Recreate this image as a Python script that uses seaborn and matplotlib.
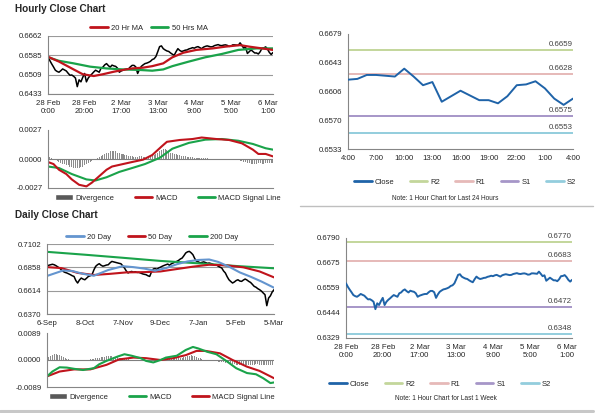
import numpy as np
import matplotlib
matplotlib.use("Agg")
import matplotlib.pyplot as plt
from matplotlib.lines import Line2D
from matplotlib.patches import Patch
import seaborn as sns

sns.set_style("white")
plt.rcParams["font.family"] = ["Liberation Sans", "DejaVu Sans"]

W, H = 600, 413

# ---- hourly bars, 28 Feb 0:00 .. 6 Mar 4:00 (one value per hour)
hourly_close = [
    0.6581, 0.6565, 0.6552, 0.6540, 0.6527, 0.6522, 0.6519, 0.6525, 0.6532, 0.6528,
    0.6524, 0.6515, 0.6507, 0.6508, 0.6503, 0.6496, 0.6462, 0.6489, 0.6481, 0.6499,
    0.6514, 0.6481, 0.6496, 0.6505, 0.6512, 0.6520, 0.6527, 0.6523, 0.6519, 0.6535,
    0.6539, 0.6548, 0.6553, 0.6545, 0.6539, 0.6547, 0.6544, 0.6542, 0.6535, 0.6519,
    0.6524, 0.6527, 0.6530, 0.6532, 0.6532, 0.6540, 0.6546, 0.6546, 0.6540, 0.6514,
    0.6530, 0.6542, 0.6548, 0.6553, 0.6555, 0.6558, 0.6562, 0.6569, 0.6572, 0.6581,
    0.6600, 0.6620, 0.6623, 0.6612, 0.6607, 0.6603, 0.6601, 0.6595, 0.6590, 0.6586,
    0.6600, 0.6612, 0.6605, 0.6601, 0.6603, 0.6606, 0.6607, 0.6611, 0.6613, 0.6616,
    0.6614, 0.6618, 0.6620, 0.6616, 0.6612, 0.6618, 0.6621, 0.6623, 0.6621, 0.6619,
    0.6620, 0.6624, 0.6626, 0.6628, 0.6625, 0.6624, 0.6626, 0.6627, 0.6625, 0.6621,
    0.6622, 0.6627, 0.6627, 0.6626, 0.6625, 0.6635, 0.6625, 0.6614, 0.6618, 0.6593,
    0.6600, 0.6607, 0.6601, 0.6595, 0.6595, 0.6591, 0.6600, 0.6614, 0.6615, 0.6619,
    0.6610, 0.6597, 0.6589, 0.6597,
]
ma20_hr_x = [0, 6, 14, 19, 25, 30, 36, 41, 46, 52, 57, 63, 68, 74, 81, 90, 97, 105, 110, 117, 123]
ma20_hr = [0.6580, 0.6561, 0.6530, 0.6511, 0.6504, 0.6511, 0.6521, 0.6528, 0.6534, 0.6537, 0.6543,
           0.6554, 0.6578, 0.6596, 0.6607, 0.6613, 0.6620, 0.6626, 0.6620, 0.6613, 0.6607]
ma50_hr_x = [0, 6, 14, 23, 32, 41, 50, 57, 63, 68, 77, 86, 95, 104, 114, 123]
ma50_hr = [0.6578, 0.6564, 0.6554, 0.6541, 0.6534, 0.6530, 0.6528, 0.6525, 0.6530, 0.6543,
           0.6561, 0.6578, 0.6591, 0.6607, 0.6613, 0.6613]
macd_hr_x = [0, 3, 6, 10, 13, 17, 21, 24, 28, 32, 35, 41, 46, 52, 57, 62, 65, 72, 79, 84,
             92, 99, 106, 112, 115, 119, 123]
macd_hr = [-0.00028, -0.00047, -0.0010, -0.0014, -0.0019, -0.0024, -0.00255, -0.0022, -0.0016,
           -0.0010, -0.0007, -0.00047, -0.00028, -0.00006, 0.00037, 0.00115, 0.0016, 0.00177,
           0.00186, 0.0020, 0.00186, 0.00177, 0.00146, 0.00087, 0.00047, 0.00047, 0.00024]
signal_hr_x = [0, 6, 13, 21, 26, 32, 39, 46, 53, 61, 68, 77, 86, 95, 104, 112, 119, 123]
signal_hr = [-0.0007, -0.00084, -0.0014, -0.0019, -0.0020, -0.0017, -0.0012, -0.00084, -0.00047,
             0.0001, 0.00096, 0.0015, 0.0018, 0.00186, 0.0017, 0.0014, 0.0010, 0.00087]
# divergence in units of 1e-4
div_hr = [
    3, 2, 1, 0.3, -1, -2, -3, -4, -5, -5,
    -6, -6, -7, -7, -8, -8, -8, -8, -7, -7,
    -6, -5, -4, -3, -2, -1, 0.3, 1, 2, 3,
    4, 5, 6, 6, 7, 7, 7, 7, 6, 6,
    5, 5, 4, 4, 3, 3, 3, 2, 2, 2,
    3, 3, 2, 2, 1, 1, 2, 3, 4, 5,
    6, 7, 8, 9, 9, 8, 7, 6, 6, 5,
    5, 4, 4, 3, 3, 3, 2, 2, 2, 2,
    1, 1, 1, 1, 1, 0.5, 0.5, 0.5, 0.3, 0.3,
    0.3, 0.3, 0.3, 0.3, 0.3, 0.3, -0.3, -0.3, -0.5, -1,
    -1, -1, -1, -1, -1, -2, -2, -3, -3, -4,
    -4, -5, -5, -5, -5, -4, -4, -5, -5, -4,
    -4, -4, -4, -4,
]
hourly_ticks = ["28 Feb\n0:00", "28 Feb\n20:00", "2 Mar\n17:00", "3 Mar\n13:00",
                "4 Mar\n9:00", "5 Mar\n5:00", "6 Mar\n1:00"]

# ---- last 24 hours
last24_close = [0.6621, 0.6622, 0.6627, 0.6627, 0.6626, 0.6625, 0.6635, 0.6625, 0.6614,
                0.6618, 0.6593, 0.6600, 0.6607, 0.6601, 0.6595, 0.6595, 0.6591, 0.6600,
                0.6614, 0.6615, 0.6619, 0.6610, 0.6597, 0.6589, 0.6597]
last24_ticks = ["4:00", "7:00", "10:00", "13:00", "16:00", "19:00", "22:00", "1:00", "4:00"]
level_names = ["R2", "R1", "S1", "S2"]
level_colors = ["#c3d69b", "#e6b9b8", "#a696c8", "#93cddd"]
levels_24h = [0.6659, 0.6628, 0.6575, 0.6553]
levels_week = [0.6770, 0.6683, 0.6472, 0.6348]

# ---- daily bars, 6 Sep .. 5 Mar
daily_close = [
    0.6870, 0.6880, 0.6885, 0.6890, 0.6885, 0.6875, 0.6862, 0.6851, 0.6830, 0.6815,
    0.6805, 0.6799, 0.6790, 0.6781, 0.6770, 0.6763, 0.6720, 0.6694, 0.6725, 0.6746,
    0.6735, 0.6728, 0.6745, 0.6763, 0.6770, 0.6781, 0.6830, 0.6868, 0.6885, 0.6896,
    0.6880, 0.6870, 0.6875, 0.6882, 0.6885, 0.6905, 0.6920, 0.6915, 0.6910, 0.6905,
    0.6900, 0.6896, 0.6875, 0.6851, 0.6820, 0.6799, 0.6810, 0.6815, 0.6808, 0.6812,
    0.6805, 0.6805, 0.6798, 0.6790, 0.6785, 0.6781, 0.6770, 0.6763, 0.6810, 0.6841,
    0.6845, 0.6838, 0.6851, 0.6860, 0.6870, 0.6878, 0.6885, 0.6892, 0.6880, 0.6895,
    0.6903, 0.6912, 0.6920, 0.6930, 0.6945, 0.6955, 0.6980, 0.7008, 0.7020, 0.7025,
    0.7010, 0.6990, 0.6950, 0.6920, 0.6915, 0.6905, 0.6910, 0.6915, 0.6908, 0.6900,
    0.6903, 0.6898, 0.6890, 0.6880, 0.6885, 0.6870, 0.6860, 0.6851, 0.6820, 0.6799,
    0.6760, 0.6728, 0.6710, 0.6694, 0.6705, 0.6720, 0.6728, 0.6715, 0.6711, 0.6725,
    0.6736, 0.6725, 0.6711, 0.6700, 0.6680, 0.6659, 0.6650, 0.6635, 0.6624, 0.6610,
    0.6590, 0.6572, 0.6457, 0.6537, 0.6560, 0.6600, 0.6624,
]
ma20_d_x = [0, 9, 14, 20, 26, 34, 42, 48, 54, 60, 66, 72, 78, 84, 90, 95, 101, 107, 113, 119, 126]
ma20_d = [0.6768, 0.6825, 0.6820, 0.6790, 0.6770, 0.6830, 0.6870, 0.6860, 0.6845, 0.6822, 0.6850,
          0.6890, 0.6920, 0.6935, 0.6940, 0.6915, 0.6865, 0.6805, 0.6760, 0.6710, 0.6645]
ma50_d_x = [0, 8, 17, 26, 35, 44, 54, 63, 72, 81, 90, 100, 109, 118, 126]
ma50_d = [0.6860, 0.6850, 0.6800, 0.6778, 0.6790, 0.6805, 0.6808, 0.6815, 0.6840, 0.6865,
          0.6885, 0.6878, 0.6858, 0.6815, 0.6753]
ma200_d_x = [0, 21, 42, 63, 84, 105, 126]
ma200_d = [0.7020, 0.6990, 0.6958, 0.6925, 0.6900, 0.6872, 0.6848]
macd_d_x = [0, 3, 7, 11, 15, 20, 26, 29, 33, 39, 43, 47, 52, 55, 59, 63, 66, 72, 77, 81,
            84, 89, 94, 100, 105, 111, 116, 120, 124, 126]
macd_d = [-0.0054, -0.0038, -0.0024, -0.0025, -0.0029, -0.0033, -0.0027, -0.0014, -0.0003,
          0.0011, 0.0019, 0.0014, 0.0006, -0.0003, -0.0008, 0.0, 0.0008, 0.0014, 0.0033, 0.0043,
          0.0038, 0.0027, 0.0019, -0.0005, -0.0027, -0.0043, -0.0047, -0.0060, -0.0076, -0.0074]
signal_d_x = [0, 7, 15, 24, 33, 40, 48, 55, 63, 70, 77, 83, 88, 96, 103, 111, 118, 126]
signal_d = [-0.0054, -0.0038, -0.0031, -0.0031, -0.0016, 0.0002, 0.0008, 0.0006, 0.0, 0.0006,
            0.0016, 0.0030, 0.0030, 0.0022, 0.0, -0.0022, -0.0036, -0.0060]
div_d = [
    5, 10, 14, 17, 19, 19, 18, 16, 13, 10,
    7, 4, 2, 1, 0.3, 0.3, 0.3, 0.3, 0.3, 0.3,
    0.3, 0.3, 1, 1, 2, 3, 4, 6, 7, 8,
    9, 10, 11, 12, 13, 13, 12, 11, 10, 9,
    8, 7, 5, 4, 3, 2, 1, 0.3, -1, -2,
    -2, -3, -3, -3, -2, -2, -1, -1, 0.3, 0.3,
    1, 2, 3, 4, 5, 5, 6, 6, 7, 7,
    6, 5, 5, 6, 7, 8, 9, 10, 12, 14,
    15, 14, 12, 10, 8, 5, 3, 1, 0.3, -1,
    -2, -3, -3, -4, -4, -5, -6, -7, -8, -9,
    -10, -11, -12, -13, -14, -15, -15, -16, -16, -17,
    -17, -17, -16, -16, -15, -15, -14, -14, -15, -15,
    -16, -16, -17, -17, -18, -18, -19,
]
daily_ticks = ["6-Sep", "8-Oct", "7-Nov", "9-Dec", "7-Jan", "5-Feb", "5-Mar"]

RED, GREEN, BLUE = "#c0141c", "#1aa34a", "#6495cf"
CLOSE_BLUE = "#1f63a8"
AXC = "#868686"


def box(l, t, r, b):
    return [l / W, 1 - b / H, (r - l) / W, (b - t) / H]


def frame(ax, grid=False):
    for s in ["top", "right"]:
        ax.spines[s].set_visible(False)
    for s in ["left", "bottom"]:
        ax.spines[s].set_color(AXC)
        ax.spines[s].set_linewidth(0.8)
    ax.tick_params(axis="both", direction="out", length=2.5, width=0.6, color=AXC,
                   labelsize=5.6, pad=1.5, labelcolor="#262626")
    if grid:
        ax.yaxis.grid(True, color="#9a9a9a", lw=0.8)
        ax.set_axisbelow(True)
    ax.set_xlabel("")
    ax.set_ylabel("")


def yscale(ax, lo, hi, n, labels):
    ax.set_ylim(lo, hi)
    ax.set_yticks(np.linspace(lo, hi, n))
    ax.set_yticklabels(labels)


def legend_row(fig, handles, labels, cx, cy, colsp):
    fig.legend(handles, labels, loc="center", bbox_to_anchor=(cx / W, 1 - cy / H),
               ncol=len(handles), frameon=False, fontsize=5.5, handlelength=2.3,
               handletextpad=0.4, columnspacing=colsp, borderaxespad=0, borderpad=0)


def bars_line(ax, close):
    # close of each bar, drawn as a solid black jagged line
    x = np.arange(len(close))
    sns.lineplot(x=x, y=close, ax=ax, color="black", lw=1.1, estimator=None)


def macd_panel(ax, xs_m, m, c_m, xs_s, s, c_s, div, lim, n):
    idx = np.arange(len(div))
    sns.barplot(x=idx, y=np.array(div) * 1e-4, native_scale=True, ax=ax, color="#8c8c8c",
                saturation=1, width=0.55, linewidth=0, errorbar=None)
    ax.axhline(0, color="#7f7f7f", lw=0.8, zorder=1)
    sns.lineplot(x=xs_s, y=s, ax=ax, color=c_s, lw=1.5, estimator=None)
    sns.lineplot(x=xs_m, y=m, ax=ax, color=c_m, lw=1.5, estimator=None)
    ax.set_xlim(0, n)
    ax.set_xticks([])
    yscale(ax, -lim, lim, 3, [f"-{lim:.4f}", "0.0000", f"{lim:.4f}"])
    frame(ax)


def levels_panel(ax, xs, close, levels):
    for name, lv, c in zip(level_names, levels, level_colors):
        ax.axhline(lv, color=c, lw=1.4, zorder=1)
        ax.annotate(f"{lv:.4f}", xy=(1, lv), xycoords=("axes fraction", "data"),
                    xytext=(0, 1.5), textcoords="offset points", ha="right", va="bottom",
                    fontsize=5.7, color="#404040")
    sns.lineplot(x=xs, y=close, ax=ax, color=CLOSE_BLUE, lw=1.4, estimator=None, zorder=3)
    frame(ax)


fig = plt.figure(figsize=(W / 100, H / 100), dpi=100)

fig.text(15 / W, 1 - 9 / H, "Hourly Close Chart", fontsize=7.2, fontweight="bold", va="center")
fig.text(15 / W, 1 - 215 / H, "Daily Close Chart", fontsize=7.2, fontweight="bold", va="center")

# hourly price
ax = fig.add_axes(box(48, 36, 273, 94))
bars_line(ax, hourly_close)
sns.lineplot(x=ma50_hr_x, y=ma50_hr, ax=ax, color=GREEN, lw=1.6, estimator=None)
sns.lineplot(x=ma20_hr_x, y=ma20_hr, ax=ax, color=RED, lw=1.6, estimator=None)
ax.set_xlim(0, 123)
ax.set_xticks(range(0, 121, 20))
ax.set_xticklabels(hourly_ticks)
yscale(ax, 0.6433, 0.6662, 4, ["0.6433", "0.6509", "0.6585", "0.6662"])
frame(ax, grid=True)
legend_row(fig, [Line2D([], [], color=RED, lw=2), Line2D([], [], color=GREEN, lw=2)],
           ["20 Hr MA", "50 Hrs MA"], 149, 28, 1.0)

# hourly macd
ax = fig.add_axes(box(48, 130, 273, 188))
macd_panel(ax, macd_hr_x, macd_hr, RED, signal_hr_x, signal_hr, GREEN, div_hr, 0.0027, 123)
legend_row(fig, [Patch(facecolor="#595959"), Line2D([], [], color=RED, lw=2),
                 Line2D([], [], color=GREEN, lw=2)],
           ["Divergence", "MACD", "MACD Signal Line"], 168, 198, 2.6)

# last 24 hours
ax = fig.add_axes(box(348, 34, 573, 149))
levels_panel(ax, np.arange(len(last24_close)), last24_close, levels_24h)
ax.set_xlim(0, 24)
ax.set_xticks(range(0, 25, 3))
ax.set_xticklabels(last24_ticks)
yscale(ax, 0.6533, 0.6679, 5, ["0.6533", "0.6570", "0.6606", "0.6643", "0.6679"])
lvl_handles = [Line2D([], [], color=CLOSE_BLUE, lw=2)] + [Line2D([], [], color=c, lw=2) for c in level_colors]
legend_row(fig, lvl_handles, ["Close"] + level_names, 465, 182, 2.0)
fig.text(445 / W, 1 - 198 / H, "Note: 1 Hour Chart for Last 24 Hours", fontsize=4.7, ha="center", va="center")

# last week
ax = fig.add_axes(box(346, 238, 572, 338))
levels_panel(ax, np.arange(len(hourly_close)), hourly_close, levels_week)
ax.set_xlim(0, 123)
ax.set_xticks(range(0, 121, 20))
ax.set_xticklabels(hourly_ticks)
yscale(ax, 0.6329, 0.6790, 5, ["0.6329", "0.6444", "0.6559", "0.6675", "0.6790"])
legend_row(fig, lvl_handles, ["Close"] + level_names, 440, 384, 2.0)
fig.text(446 / W, 1 - 398 / H, "Note: 1 Hour Chart for Last 1 Week", fontsize=4.7, ha="center", va="center")

# daily price
ax = fig.add_axes(box(47, 244, 274, 314))
bars_line(ax, daily_close)
sns.lineplot(x=ma200_d_x, y=ma200_d, ax=ax, color=GREEN, lw=1.5, estimator=None)
sns.lineplot(x=ma50_d_x, y=ma50_d, ax=ax, color=RED, lw=1.5, estimator=None)
sns.lineplot(x=ma20_d_x, y=ma20_d, ax=ax, color=BLUE, lw=1.5, estimator=None)
ax.set_xlim(0, 126)
ax.set_xticks(range(0, 127, 21))
ax.set_xticklabels(daily_ticks)
yscale(ax, 0.6370, 0.7102, 4, ["0.6370", "0.6614", "0.6858", "0.7102"])
frame(ax, grid=True)
legend_row(fig, [Line2D([], [], color=BLUE, lw=2), Line2D([], [], color=RED, lw=2),
                 Line2D([], [], color=GREEN, lw=2)],
           ["20 Day", "50 Day", "200 Day"], 152, 237, 2.2)

# daily macd
ax = fig.add_axes(box(47, 333, 274, 387))
macd_panel(ax, macd_d_x, macd_d, GREEN, signal_d_x, signal_d, RED, div_d, 0.0089, 126)
legend_row(fig, [Patch(facecolor="#595959"), Line2D([], [], color=GREEN, lw=2),
                 Line2D([], [], color=RED, lw=2)],
           ["Divergence", "MACD", "MACD Signal Line"], 162, 397, 2.6)

# separators
fig.add_artist(Line2D([300 / W, 593 / W], [1 - 206 / H] * 2, color="#bfbfbf", lw=1.0))
fig.add_artist(Line2D([0, 593 / W], [1 - 410.5 / H] * 2, color="#c8c8c8", lw=2.2))

fig.savefig("out.png", dpi=100)
